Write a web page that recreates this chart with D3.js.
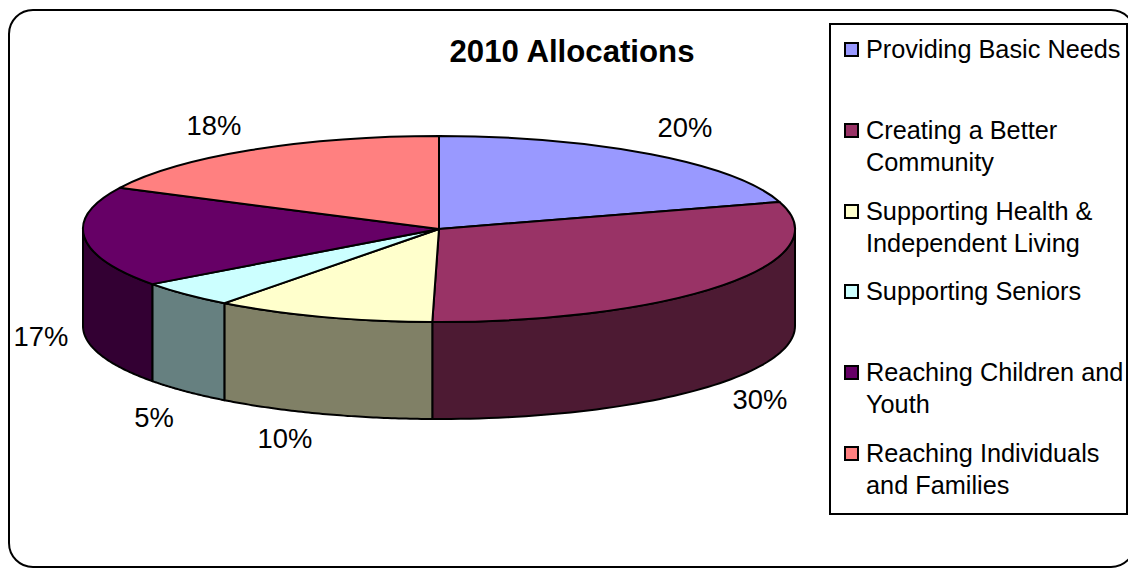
<!DOCTYPE html>
<html><head><meta charset="utf-8">
<script src="https://d3js.org/d3.v7.min.js"></script>
<style>html,body{margin:0;padding:0;background:#fff;overflow:hidden}svg{display:block}text{font-family:"Liberation Sans",Arial,sans-serif;fill:#000}</style>
</head><body><svg id="c" width="1128" height="568"></svg>
<script>
const categories=[["Providing Basic Needs"],["Creating a Better","Community"],["Supporting Health &","Independent Living"],["Supporting Seniors"],["Reaching Children and","Youth"],["Reaching Individuals","and Families"]];
const values=[20.3,30,10,4.6,17.4,17.7];
const labels=["20%","30%","10%","5%","17%","18%"];
const colors=["#9999FF","#993366","#FFFFCC","#CCFFFF","#660066","#FF8080"];
const sideColors=["#4D4D80","#4D1A33","#808066","#668080","#330033","#804040"];
const labelPos=[[685,137],[760,409],[285,448],[154,427],[41,346],[214,135]];
const legendRows=[58,139,220,300,381,462];
const svg=d3.select("#c");
const cx=439,cy=229,rx=356,ry=93,depth=97;
svg.append("rect").attr("x",9).attr("y",10).attr("width",1126).attr("height",557).attr("rx",24).attr("fill","#fff").attr("stroke","#000").attr("stroke-width",2);
svg.append("text").attr("x",572).attr("y",62).attr("text-anchor","middle").attr("font-size",31.2).attr("font-weight","bold").text("2010 Allocations");
const pie=d3.pie().sort(null).value(d=>d);
const arcs=pie(values);
const px=t=>cx+rx*Math.sin(t),py=t=>cy-ry*Math.cos(t);
const H=Math.PI/2,TH=3*Math.PI/2;
arcs.forEach((a,i)=>{
  const s=Math.max(a.startAngle,H),e=Math.min(a.endAngle,TH);
  if(e<=s)return;
  const ts=d3.range(0,61).map(k=>s+(e-s)*k/60);
  const pts=ts.map(t=>[px(t),py(t)]).concat(ts.slice().reverse().map(t=>[px(t),py(t)+depth]));
  svg.append("path").attr("d",d3.line()(pts)+"Z").attr("fill",sideColors[i]).attr("stroke","#000").attr("stroke-width",2).attr("stroke-linejoin","round");
});
const arc=d3.arc().innerRadius(0).outerRadius(rx);
const topFace=svg.append("g").attr("transform",`translate(${cx},${cy}) scale(1,${ry/rx})`);
topFace.selectAll("path").data(arcs).join("path").attr("d",arc).attr("fill",(d,i)=>colors[i]).attr("stroke","#000").attr("stroke-width",2).attr("vector-effect","non-scaling-stroke").attr("stroke-linejoin","round");
svg.selectAll("text.l").data(labels).join("text").attr("class","l").attr("x",(d,i)=>labelPos[i][0]).attr("y",(d,i)=>labelPos[i][1]).attr("text-anchor","middle").attr("font-size",27.4).text(d=>d);
svg.append("rect").attr("x",830).attr("y",24).attr("width",297).attr("height",490).attr("fill","#fff").attr("stroke","#000").attr("stroke-width",2);
categories.forEach((c,i)=>{
  const y=legendRows[i];
  svg.append("rect").attr("x",845).attr("y",y-15).attr("width",13).attr("height",13).attr("fill",colors[i]).attr("stroke","#000").attr("stroke-width",2);
  c.forEach((t,j)=>svg.append("text").attr("x",866).attr("y",y+j*32).attr("font-size",25.3).text(t));
});
</script></body></html>
